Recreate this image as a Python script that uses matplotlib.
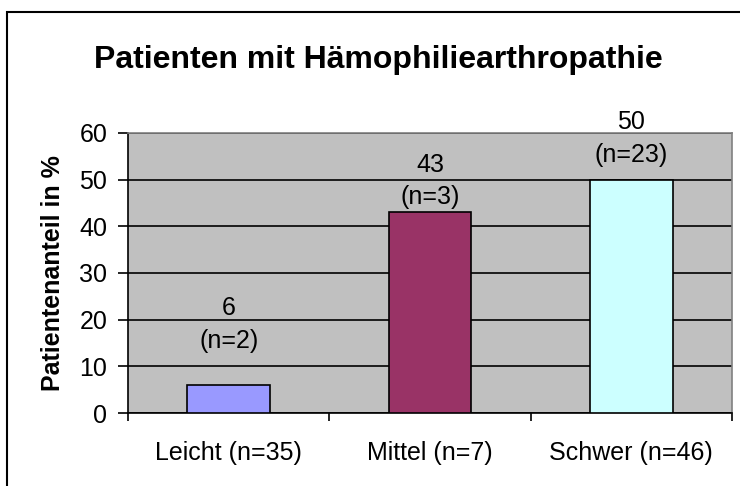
import matplotlib
matplotlib.use('Agg')
import numpy as np
import matplotlib.pyplot as plt
from matplotlib.patches import Rectangle

# Data
categories = ['Leicht (n=35)', 'Mittel (n=7)', 'Schwer (n=46)']
percent = [6, 43, 50]
n_patients = [2, 3, 23]
bar_colors = ['#9999FF', '#993366', '#CCFFFF']

title = 'Patienten mit Hämophiliearthropathie'
ylabel = 'Patientenanteil in %'

# label gap above each bar (pixels), as placed in the original
label_gap = [32, 3, 13]

plt.rcParams['font.family'] = ['Liberation Sans', 'DejaVu Sans']

fig = plt.figure(figsize=(7.4, 4.86), dpi=100)
ax = fig.add_axes([128 / 740, 73 / 486, 604 / 740, 280 / 486])
ax.set_facecolor('#C0C0C0')

x = np.arange(len(categories))
ax.bar(x, percent, width=0.41, color=bar_colors, edgecolor='black',
       linewidth=1.2, zorder=3)

for xi, val, n, gap in zip(x, percent, n_patients, label_gap):
    ax.annotate(f'{val}\n(n={n})', (xi, val), xytext=(0, gap * 0.72),
                textcoords='offset points', ha='center', va='bottom',
                fontsize=18, linespacing=1.45, zorder=4)

ax.set_xlim(-0.5, len(categories) - 0.5)
ax.set_ylim(0, 60)
ax.set_yticks(range(0, 61, 10))
ax.tick_params(axis='y', labelsize=18, length=7, width=1.2, pad=8)
ax.set_xticks(x)
ax.set_xticklabels(categories)
ax.tick_params(axis='x', which='major', length=0, labelsize=18, pad=20)
ax.set_xticks(np.arange(len(categories) + 1) - 0.5, minor=True)
ax.tick_params(axis='x', which='minor', length=6, width=1.2)

ax.yaxis.grid(True, color='black', linewidth=1.2, zorder=1)
ax.set_axisbelow(True)

for side in ['left', 'bottom']:
    ax.spines[side].set_color('black')
    ax.spines[side].set_linewidth(1.2)
for side in ['top', 'right']:
    ax.spines[side].set_color('#808080')
    ax.spines[side].set_linewidth(1.2)

ax.set_ylabel(ylabel, fontsize=18, fontweight='bold', labelpad=10)
fig.suptitle(title, fontsize=23, fontweight='bold', x=378 / 740, y=1 - 60 / 486,
             va='center')

# outer chart frame (cut off at right and bottom in the original)
fig.patches.append(Rectangle((7 / 740, -0.1), 1.2, 0.1 + 474 / 486,
                             transform=fig.transFigure, fill=False,
                             edgecolor='black', linewidth=1.5))

fig.savefig('out.png', dpi=100)
